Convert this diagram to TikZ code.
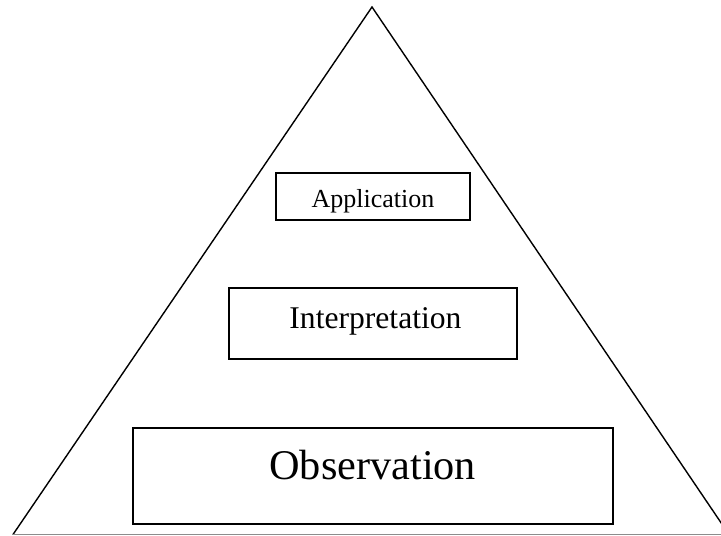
\documentclass[tikz,border=0pt]{standalone}
\usepackage{fontspec}
\setmainfont{Liberation Serif}
\begin{document}
\begin{tikzpicture}[x=1pt,y=-1pt,
  levelbox/.style={draw=black, line width=2pt, inner sep=0pt, anchor=north west, align=center},
  leg/.style={draw=black, line width=1.4pt},
  basestyle/.style={draw=black!45, line width=1.6pt}]
\useasboundingbox (0,0) rectangle (721,536);
\clip (0,0) rectangle (721,536);
\coordinate (apex) at (372,7);
\coordinate (bl) at (13,534.5);
\coordinate (br) at (729,534.5);
\draw[leg] (bl) -- (apex) -- (br);
\draw[basestyle] (12,534.5) -- (721,534.5);
\node[levelbox, minimum width=194pt, text height=35pt, text depth=12.6pt, font=\fontsize{26}{30}\selectfont] (app) at (275,171.7) {Application};
\node[levelbox, minimum width=287.7pt, text height=40.4pt, text depth=30.6pt, font=\fontsize{31.6}{36}\selectfont] (interp) at (228.3,287.3) {\hspace*{4.6pt}Interpretation};
\node[levelbox, minimum width=480pt, text height=51.3pt, text depth=44.7pt, font=\fontsize{42.3}{48}\selectfont] (obs) at (131.7,426.7) {Observation};
\end{tikzpicture}
\end{document}
